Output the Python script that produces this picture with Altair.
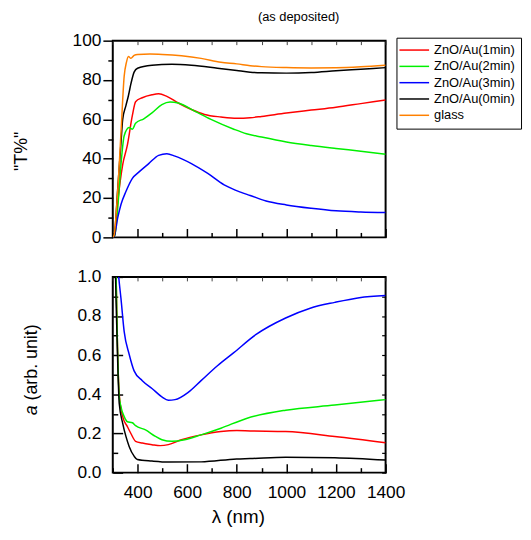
import altair as alt
import pandas as pd

FONT = "Liberation Sans"
series = ["ZnO/Au(1min)", "ZnO/Au(2min)", "ZnO/Au(3min)", "ZnO/Au(0min)", "glass"]
colors = ["#ff0000", "#00f000", "#0000ff", "#000000", "#ff8000"]

# ---------- upper panel: transmittance T% ----------
t_wl_1min = [300, 307, 320, 340, 359, 379, 392, 419, 458, 485, 518, 564, 617, 670, 736, 800, 854, 900, 1000, 1100, 1200, 1300, 1400]
t_1min = [0, 1, 18, 37, 47, 62, 69, 71, 72.5, 73, 71.7, 68.3, 65, 62.5, 61.2, 60.5, 60.8, 61.5, 63.2, 64.7, 66.2, 68, 69.8]

t_wl_2min = [300, 308, 320, 333, 346, 366, 379, 392, 425, 458, 498, 531, 564, 630, 696, 788, 839, 900, 1000, 1100, 1200, 1300, 1400]
t_2min = [0, 1, 15, 37, 51.7, 55.8, 55, 58, 60.3, 63.3, 67.5, 68.8, 68.3, 64.2, 60, 55, 52.7, 51, 48.5, 46.7, 45.2, 43.8, 42.3]

t_wl_3min = [300, 306, 320, 333, 353, 379, 406, 445, 485, 518, 551, 617, 683, 749, 815, 854, 918, 1000, 1100, 1200, 1300, 1400]
t_3min = [0, 0.5, 10, 16.7, 23.3, 30, 33.3, 37.5, 41.7, 42.5, 41.3, 37.5, 32.5, 26.7, 23, 21.3, 18.5, 16.5, 14.8, 13.5, 12.9, 12.6]

t_wl_0min = [300, 306, 320, 333, 340, 353, 363, 373, 386, 400, 458, 538, 617, 722, 800, 854, 900, 1000, 1100, 1200, 1300, 1400]
t_0min = [0, 1, 25, 48, 60, 67, 72, 78, 84, 86, 87.5, 88, 87.5, 86, 84.8, 84, 83.7, 83.5, 83.8, 84.7, 85.5, 86.3]

t_wl_glass = [300, 305, 318, 333, 346, 355, 363, 373, 386, 400, 450, 500, 577, 656, 736, 800, 854, 900, 1000, 1100, 1200, 1300, 1400]
t_glass = [0, 1, 20, 53, 82, 89, 92, 91, 92.5, 93, 93.2, 93, 92.3, 91, 89, 88.2, 87.3, 86.8, 86.3, 86.1, 86.2, 86.7, 87.5]

# ---------- lower panel: absorbance a ----------
a_wl_1min = [312, 318, 326, 340, 359, 373, 392, 419, 458, 491, 524, 577, 656, 736, 800, 854, 997, 1195, 1400]
a_1min = [1.1, 0.7, 0.4, 0.286, 0.235, 0.2, 0.16, 0.151, 0.143, 0.138, 0.143, 0.168, 0.193, 0.21, 0.215, 0.213, 0.21, 0.185, 0.153]

a_wl_2min = [312, 318, 326, 333, 346, 359, 379, 392, 432, 472, 498, 538, 590, 656, 736, 839, 997, 1195, 1400]
a_2min = [1.1, 0.7, 0.39, 0.336, 0.286, 0.26, 0.255, 0.24, 0.218, 0.185, 0.168, 0.16, 0.168, 0.193, 0.227, 0.277, 0.319, 0.345, 0.373]

a_wl_3min = [318, 324, 333, 346, 366, 386, 419, 458, 498, 524, 551, 604, 656, 722, 788, 878, 997, 1096, 1195, 1294, 1400]
a_3min = [1.1, 1.0, 0.89, 0.72, 0.605, 0.52, 0.47, 0.43, 0.387, 0.37, 0.373, 0.41, 0.47, 0.546, 0.613, 0.706, 0.79, 0.84, 0.87, 0.894, 0.905]

a_wl_0min = [308, 313, 320, 326, 340, 353, 366, 386, 399, 458, 524, 656, 799, 854, 997, 1195, 1400]
a_0min = [1.2, 0.89, 0.555, 0.353, 0.252, 0.185, 0.134, 0.084, 0.067, 0.059, 0.054, 0.055, 0.07, 0.072, 0.079, 0.076, 0.064]

x_ticks = list(range(300, 1401, 100))
t_ticks = list(range(0, 101, 10))
a_ticks = [round(i * 0.1, 1) for i in range(11)]


def long_df(parts):
    rows = []
    for name, wl, vals in parts:
        for w, v in zip(wl, vals):
            rows.append({"series": name, "wl": w, "v": v})
    return pd.DataFrame(rows)


top_df = long_df([
    ("ZnO/Au(1min)", t_wl_1min, t_1min),
    ("ZnO/Au(2min)", t_wl_2min, t_2min),
    ("ZnO/Au(3min)", t_wl_3min, t_3min),
    ("ZnO/Au(0min)", t_wl_0min, t_0min),
    ("glass", t_wl_glass, t_glass),
])
bot_df = long_df([
    ("ZnO/Au(1min)", a_wl_1min, a_1min),
    ("ZnO/Au(2min)", a_wl_2min, a_2min),
    ("ZnO/Au(3min)", a_wl_3min, a_3min),
    ("ZnO/Au(0min)", a_wl_0min, a_0min),
])

cscale = alt.Scale(domain=series, range=colors)
xscale = alt.Scale(domain=[300, 1400], nice=False, zero=False)
tscale = alt.Scale(domain=[0, 100], nice=False)
ascale = alt.Scale(domain=[0, 1], nice=False)

x_in_ticks = {"condition": {"test": "datum.value % 200 === 0", "value": -9}, "value": -5}

xaxis_top = alt.Axis(values=x_ticks, labels=False, title=None, domain=False, grid=False,
                     tickColor="black", tickWidth=1.5, tickSize=x_in_ticks)
xaxis_bot = alt.Axis(values=x_ticks, format="d", title=None, domain=False, grid=False,
                     tickColor="black", tickWidth=1.5, tickSize=x_in_ticks,
                     labelExpr="datum.value % 200 === 0 ? datum.label : ''",
                     labelOverlap=False, labelFlush=False,
                     labelFont=FONT, labelFontSize=17.5, labelColor="black", labelPadding=20)
yaxis_top = alt.Axis(values=t_ticks, format="d", title=None, domain=False, grid=False,
                     tickColor="black", tickWidth=1.5,
                     tickSize={"condition": {"test": "datum.value % 20 === 0", "value": 10}, "value": 5},
                     labelExpr="datum.value % 20 === 0 ? datum.label : ''",
                     labelOverlap=False, labelFlush=False,
                     labelFont=FONT, labelFontSize=17.5, labelColor="black", labelPadding=2)
yaxis_bot = alt.Axis(values=a_ticks, format=".1f", title=None, domain=False, grid=False,
                     tickColor="black", tickWidth=1.5,
                     tickSize={"condition": {"test": "round(datum.value * 10) % 2 === 0", "value": -10}, "value": -5},
                     labelExpr="round(datum.value * 10) % 2 === 0 ? datum.label : ''",
                     labelOverlap=False, labelFlush=False,
                     labelFont=FONT, labelFontSize=17.5, labelColor="black", labelPadding=22)

# mirror (top / right) inward ticks
mirror_x = alt.Axis(orient="top", values=x_ticks, labels=False, title=None, domain=False, grid=False,
                    tickColor="#444444", tickWidth=1, tickSize=alt.ExprRef("-4"))
mirror_y = alt.Axis(orient="right", values=a_ticks, labels=False, title=None, domain=False, grid=False,
                    tickColor="black", tickWidth=1.2, tickSize=alt.ExprRef("-4"))

legend = alt.Legend(title=None, orient="none", legendX=287, legendY=-3,
                    strokeColor="black", fillColor="white", padding=6,
                    symbolType="M-2.375,0H5.125", symbolSize=64, symbolStrokeWidth=1.5,
                    labelFont=FONT, labelFontSize=13, labelColor="black",
                    labelOffset=19, rowPadding=2.5)


def label(text, x, y, size, angle=0, style="normal", align="center"):
    return alt.Chart(pd.DataFrame({"t": [text]})).mark_text(
        text=text, fontSize=size, font=FONT, angle=angle, fontStyle=style,
        align=align, baseline="middle", color="black"
    ).encode(x=alt.value(x), y=alt.value(y))


top_lines = alt.Chart(top_df).mark_line(strokeWidth=1.5, interpolate="monotone", clip=True).encode(
    x=alt.X("wl:Q", scale=xscale, axis=xaxis_top),
    y=alt.Y("v:Q", scale=tscale, axis=yaxis_top),
    color=alt.Color("series:N", scale=cscale, legend=legend),
)
top_mirror = alt.Chart(top_df).mark_line(opacity=0).encode(
    x=alt.X("wl:Q", scale=xscale, axis=mirror_x),
    y=alt.Y("v:Q", scale=tscale, axis=None),
)

top = alt.layer(
    top_lines,
    top_mirror,
    label("(as deposited)", 188, -24, 13),
    label('"T%"', -92, 112, 18, angle=270),
).resolve_axis(x="independent", y="independent").properties(width=276, height=199)

bot_lines = alt.Chart(bot_df).mark_line(strokeWidth=1.5, interpolate="monotone", clip=True).encode(
    x=alt.X("wl:Q", scale=xscale, axis=xaxis_bot),
    y=alt.Y("v:Q", scale=ascale, axis=yaxis_bot),
    color=alt.Color("series:N", scale=cscale, legend=None),
)
bot_mirror = alt.Chart(bot_df).mark_line(opacity=0).encode(
    x=alt.X("wl:Q", scale=xscale, axis=mirror_x),
    y=alt.Y("v:Q", scale=ascale, axis=mirror_y),
)

bottom = alt.layer(
    bot_lines,
    bot_mirror,
    label("a", -82, 140, 18, angle=270, style="italic", align="left"),
    label("(arb. unit)", -82, 125, 18, angle=270, align="left"),
    label("λ (nm)", 127, 243, 19),
).resolve_axis(x="independent", y="independent").properties(width=276, height=198)

chart = alt.vconcat(top, bottom, spacing=40, bounds="flush").resolve_scale(
    color="independent"
).properties(
    padding={"left": 4, "top": -1, "right": 0, "bottom": 0}
).configure_view(stroke="black", strokeWidth=2)

chart.save("out.html", embed_options={"renderer": "svg", "actions": False})
